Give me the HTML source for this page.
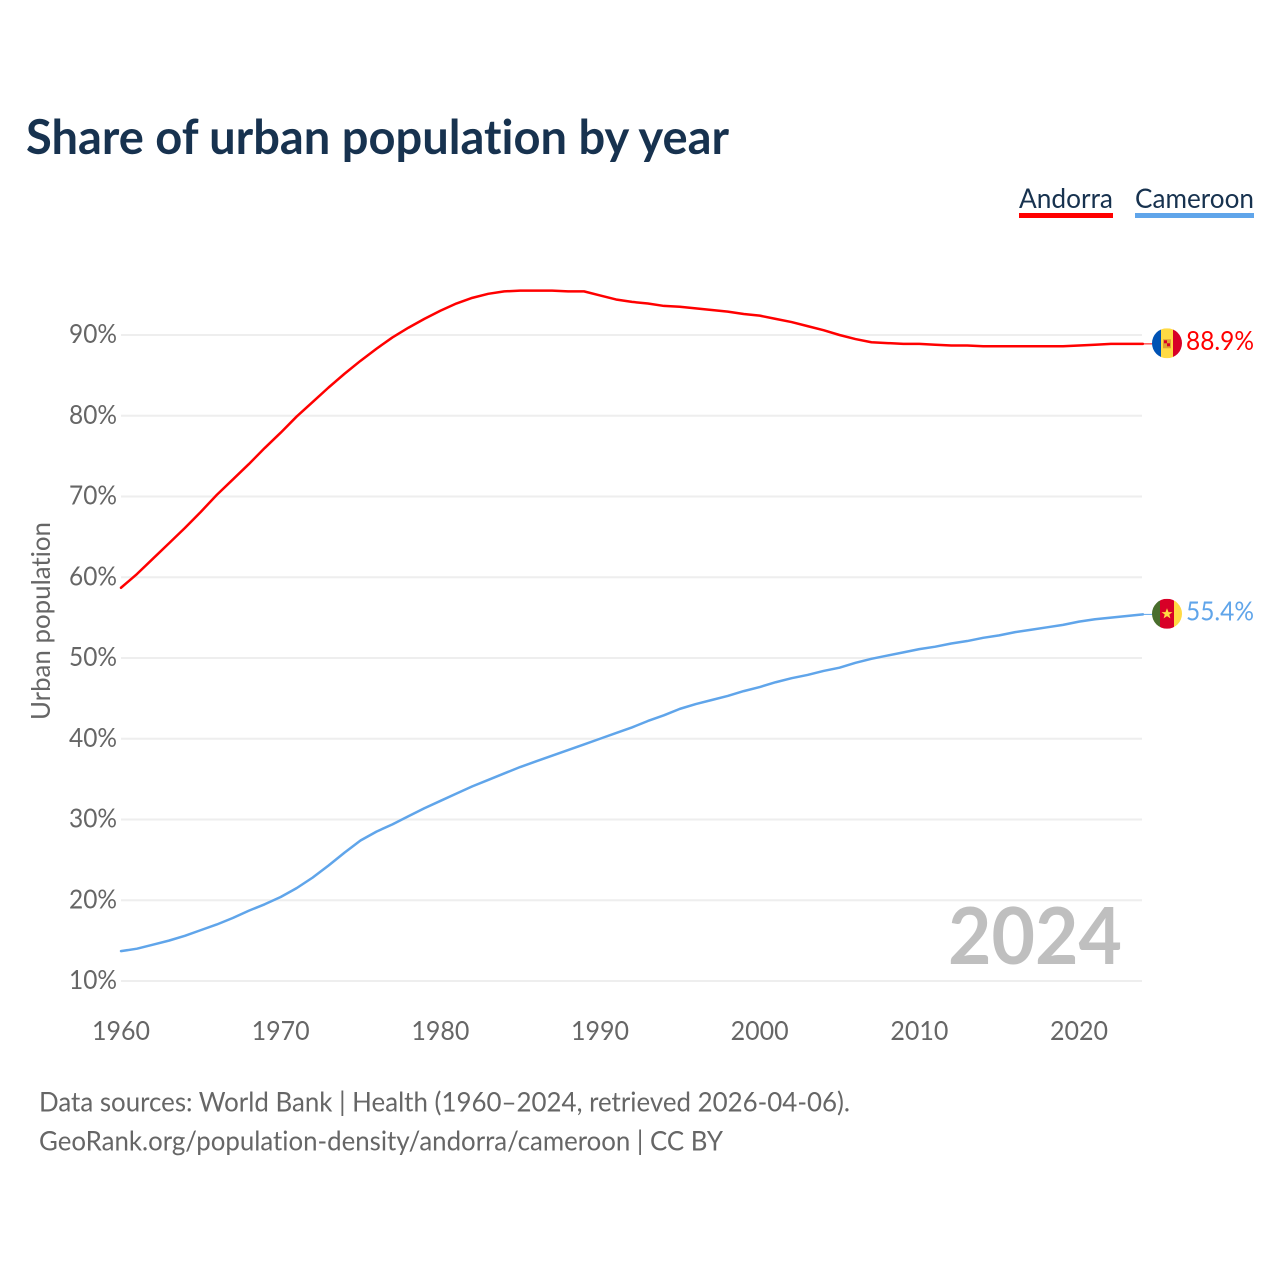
<!DOCTYPE html>
<html lang="en">
<head>
<meta charset="utf-8">
<title>Share of urban population by year</title>
<style>
html,body{margin:0;padding:0;background:#fff;width:1280px;height:1280px;overflow:hidden}
svg{display:block}
text{font-family:"Lato","Carlito","Liberation Sans",sans-serif;font-variant-ligatures:none}
</style>
</head>
<body>
<svg id="chart" width="1280" height="1280" viewBox="0 0 1280 1280" xmlns="http://www.w3.org/2000/svg">
  <defs>
    <clipPath id="flag-clip"><circle cx="0" cy="0" r="15"/></clipPath>
  </defs>
  <rect width="1280" height="1280" fill="#fff"/>
  <text x="26" y="154" font-size="48" font-weight="700" fill="#17324f" textLength="703" lengthAdjust="spacingAndGlyphs">Share of urban population by year</text>

  <g>
    <text x="1019" y="208" font-size="27" fill="#17324f" textLength="94" lengthAdjust="spacingAndGlyphs">Andorra</text>
    <rect x="1019" y="213" width="94" height="5" fill="#ff0000"/>
  </g>
  <g>
    <text x="1135" y="208" font-size="27" fill="#17324f" textLength="119" lengthAdjust="spacingAndGlyphs">Cameroon</text>
    <rect x="1135" y="213" width="119" height="5" fill="#60a5ea"/>
  </g>

  <g id="grid"></g>
  <g id="y-ticks"></g>
  <g id="x-ticks"></g>
  <text transform="translate(50 621) rotate(-90)" text-anchor="middle" font-size="26" fill="#666666" textLength="198" lengthAdjust="spacingAndGlyphs">Urban population</text>

  <text x="948" y="964" font-size="79" font-weight="700" fill="#bfbfbf" textLength="174" lengthAdjust="spacingAndGlyphs">2024</text>

  <g id="series"></g>

  <g id="flag-andorra">
    <g clip-path="url(#flag-clip)">
      <rect x="-15" y="-15" width="9" height="30" fill="#0052b4"/>
      <rect x="-6" y="-15" width="12" height="30" fill="#ffda44"/>
      <rect x="6" y="-15" width="9" height="30" fill="#d80027"/>
      <rect x="-4" y="-4" width="8" height="9" fill="#e0a030"/>
      <rect x="-3" y="-3" width="3" height="3" fill="#d80027"/>
      <rect x="0" y="0" width="3" height="3" fill="#d80027"/>
    </g>
  </g>
  <g id="flag-cameroon">
    <g clip-path="url(#flag-clip)">
      <rect x="-15" y="-15" width="8" height="30" fill="#496e2d"/>
      <rect x="-7" y="-15" width="14" height="30" fill="#d80027"/>
      <rect x="7" y="-15" width="8" height="30" fill="#ffda44"/>
      <polygon points="0,-5.5 1.5,-1.7 5.5,-1.7 2.3,0.7 3.4,4.6 0,2.3 -3.4,4.6 -2.3,0.7 -5.5,-1.7 -1.5,-1.7" fill="#ffda44"/>
    </g>
  </g>
  <text id="label-andorra" x="1186" font-size="26.5" fill="#ff0000" textLength="68" lengthAdjust="spacingAndGlyphs"></text>
  <text id="label-cameroon" x="1186" font-size="26.5" fill="#60a5ea" textLength="68" lengthAdjust="spacingAndGlyphs"></text>

  <text x="39" y="1111.5" font-size="27" fill="#666666" textLength="811" lengthAdjust="spacingAndGlyphs">Data sources: World Bank | Health (1960–2024, retrieved 2026-04-06).</text>
  <text x="39" y="1150.5" font-size="27" fill="#666666" textLength="684" lengthAdjust="spacingAndGlyphs">GeoRank.org/population-density/andorra/cameroon | CC BY</text>
</svg>
<script>
const startYear = 1960;
const yTickValues = [10, 20, 30, 40, 50, 60, 70, 80, 90];
const xTickValues = [1960, 1970, 1980, 1990, 2000, 2010, 2020];
const andorraValues = [
  58.7, 60.4, 62.3, 64.2, 66.1, 68.1, 70.2, 72.1, 74.0, 76.0,
  77.9, 79.9, 81.7, 83.5, 85.2, 86.8, 88.3, 89.7, 90.9, 92.0,
  93.0, 93.9, 94.6, 95.1, 95.4, 95.5, 95.5, 95.5, 95.4, 95.4,
  94.9, 94.4, 94.1, 93.9, 93.6, 93.5, 93.3, 93.1, 92.9, 92.6,
  92.4, 92.0, 91.6, 91.1, 90.6, 90.0, 89.5, 89.1, 89.0, 88.9,
  88.9, 88.8, 88.7, 88.7, 88.6, 88.6, 88.6, 88.6, 88.6, 88.6,
  88.7, 88.8, 88.9, 88.9, 88.9
];
const cameroonValues = [
  13.7, 14.0, 14.5, 15.0, 15.6, 16.3, 17.0, 17.8, 18.7, 19.5,
  20.4, 21.5, 22.8, 24.3, 25.9, 27.4, 28.5, 29.4, 30.4, 31.4,
  32.3, 33.2, 34.1, 34.9, 35.7, 36.5, 37.2, 37.9, 38.6, 39.3,
  40.0, 40.7, 41.4, 42.2, 42.9, 43.7, 44.3, 44.8, 45.3, 45.9,
  46.4, 47.0, 47.5, 47.9, 48.4, 48.8, 49.4, 49.9, 50.3, 50.7,
  51.1, 51.4, 51.8, 52.1, 52.5, 52.8, 53.2, 53.5, 53.8, 54.1,
  54.5, 54.8, 55.0, 55.2, 55.4
];

const NS = 'http://www.w3.org/2000/svg';
function xScale(year) { return 121 + (year - 1960) * (958 / 60); }
function yScale(value) { return 981 - (value - 10) * (646 / 80); }
function make(tag, parent, attrs) {
  const el = document.createElementNS(NS, tag);
  for (const k in attrs) el.setAttribute(k, attrs[k]);
  parent.appendChild(el);
  return el;
}

const grid = document.getElementById('grid');
const yTicks = document.getElementById('y-ticks');
yTickValues.forEach(function (v) {
  const line = make('line', grid, { x1: 121, x2: 1142, y1: yScale(v), y2: yScale(v), stroke: '#eeeeee', 'stroke-width': 2 });
  
  
  const t = make('text', yTicks, { x: 117, y: yScale(v) + 8, 'text-anchor': 'end', 'font-size': 26.5, fill: '#666666', textLength: 48, lengthAdjust: 'spacingAndGlyphs' });
  
  
  t.textContent = v + '%';
});

const xTicks = document.getElementById('x-ticks');
xTickValues.forEach(function (y) {
  const t = make('text', xTicks, { x: xScale(y), y: 1040, 'text-anchor': 'middle', 'font-size': 26.5, fill: '#666666', textLength: 58, lengthAdjust: 'spacingAndGlyphs' });
  
  
  t.textContent = y;
});

function drawSeries(values, color, lineName, leaderName, flagId, labelId) {
  const seriesGroup = document.getElementById('series');
  const pts = values.map(function (v, i) {
    return xScale(startYear + i).toFixed(2) + ',' + yScale(v).toFixed(2);
  }).join(' ');
  const line = make('polyline', seriesGroup, { points: pts, fill: 'none', stroke: color, 'stroke-width': 2.5, 'stroke-linejoin': 'round', 'stroke-linecap': 'round' });
  
  
  const last = values[values.length - 1];
  const lastX = xScale(startYear + values.length - 1);
  const lastY = yScale(last);
  const leader = make('line', seriesGroup, { x1: lastX, x2: 1153, y1: lastY, y2: lastY, stroke: color, 'stroke-width': 1 });
  
  
  document.getElementById(flagId).setAttribute('transform', 'translate(1167 ' + (lastY - 0.6) + ')');
  const label = document.getElementById(labelId);
  label.setAttribute('y', lastY + 6);
  label.textContent = last.toFixed(1) + '%';
}
drawSeries(andorraValues, '#ff0000', 'andorra-line', 'andorra-leader', 'flag-andorra', 'label-andorra');
drawSeries(cameroonValues, '#60a5ea', 'cameroon-line', 'cameroon-leader', 'flag-cameroon', 'label-cameroon');
</script>
</body>
</html>
